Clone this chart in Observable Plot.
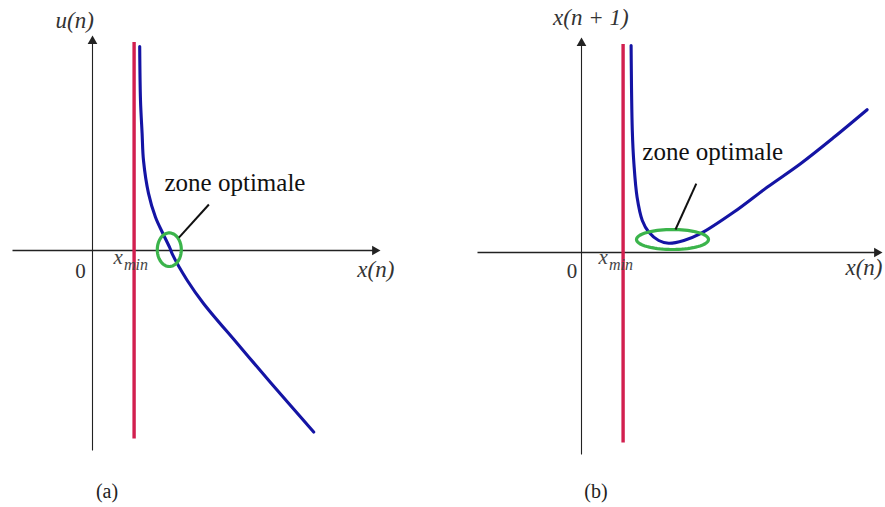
<!DOCTYPE html>
<html>
<head>
<meta charset="utf-8">
<script src="https://cdn.jsdelivr.net/npm/d3@7"></script>
<script src="https://cdn.jsdelivr.net/npm/@observablehq/plot@0.6"></script>
<style>
  body { margin: 0; background: #fff; }
  #wrap { position: relative; width: 885px; height: 507px; overflow: hidden; background: #fff; }
  .panel { position: absolute; top: 0; }
  .cap { position: absolute; top: 480px; font-family: "Liberation Serif"; font-size: 20px; color: #222; transform: translateX(-50%); }
</style>
</head>
<body>
<div id="wrap">
  <div class="panel" id="pa" style="left:0px"></div>
  <div class="panel" id="pb" style="left:442px"></div>
  <div class="cap" style="left:107px">(a)</div>
  <div class="cap" style="left:596px">(b)</div>
</div>
<script>
// ---------- Panel (a): u(n) versus x(n) ----------
const curveA_x = [1.18, 1.20, 1.24, 1.275, 1.40, 1.575, 1.76, 1.94, 1.99, 2.37, 2.78, 3.62, 4.45, 5.53];
const curveA_y = [5.10, 3.75, 2.93, 2.25, 1.43, 0.83, 0.425, 0.05, -0.08, -0.75, -1.33, -2.325, -3.30, -4.54];
const xminA = 1.04;
const redA = [-4.71, 5.2];          // bottom, top of the x_min line
const axisA_x = [-2.0, 7.15];       // x-axis extent (arrow at right)
const axisA_y = [-5.0, 5.325];      // y-axis extent (arrow at top)
const zoneA = {cx: 1.92, cy: 0.02, rx: 0.30, ry: 0.42};
const pointerA = [2.91, 1.15, 2.16, 0.32];
const labelsA = {zone: [1.80, 1.48], yLab: ["u(n)", -0.925, 5.575], xLab: ["x(n)", 6.62, -0.65], zero: [-0.30, -0.675], xmin: [0.525, -0.325]};

// ---------- Panel (b): x(n+1) versus x(n) ----------
const curveB_x = [1.24, 1.27, 1.31, 1.39, 1.52, 1.68, 1.93, 2.18, 2.56, 2.975, 3.81, 4.64, 5.475, 6.31, 7.14];
const curveB_y = [5.175, 3.05, 2.225, 1.38, 0.80, 0.51, 0.30, 0.23, 0.30, 0.47, 1.01, 1.63, 2.22, 2.88, 3.57];
const xminB = 1.04;
const redB = [-4.76, 5.2];
const axisB_x = [-2.6, 7.475];
const axisB_y = [-5.05, 5.325];
const zoneB = {cx: 2.275, cy: 0.325, rx: 0.90, ry: 0.25};
const pointerB = [2.87, 1.72, 2.35, 0.575];
const labelsB = {zone: [1.52, 2.32], yLab: ["x(n + 1)", -0.71, 5.70], xLab: ["x(n)", 6.60, -0.55], zero: [-0.24, -0.625], xmin: [0.425, -0.275]};

const RED = "#d21f4f", BLUE = "#1414a4", GREEN = "#3bb44b", AX = "#222";
const SERIF = "Liberation Serif";

function ellipse(z) {
  return d3.range(0, 73).map(i => {
    const t = i / 72 * 2 * Math.PI;
    return {x: z.cx + z.rx * Math.cos(t), y: z.cy + z.ry * Math.sin(t)};
  });
}

function label(text, x, y, opts) {
  return Plot.text([text], {x: () => x, y: () => y, text: d => d, textAnchor: "start", lineAnchor: "bottom", fontFamily: SERIF, ...opts});
}

function panel(c) {
  const curve = c.cx.map((x, i) => ({x, y: c.cy[i]}));
  const L = c.labels;
  return Plot.plot({
    width: c.width, height: 470, margin: 0,
    x: {domain: c.xDomain, axis: null},
    y: {domain: c.yDomain, axis: null},
    style: {background: "transparent", overflow: "visible"},
    marks: [
      // axes
      Plot.link([{x1: c.axX[0], y1: 0, x2: c.axX[1] - 0.1, y2: 0}], {x1: "x1", y1: "y1", x2: "x2", y2: "y2", stroke: AX, strokeWidth: 1.4}),
      Plot.link([{x1: 0, y1: c.axY[0], x2: 0, y2: c.axY[1] - 0.1}], {x1: "x1", y1: "y1", x2: "x2", y2: "y2", stroke: AX, strokeWidth: 1.1}),
      Plot.dot([{x: c.axX[1] - 0.09, y: 0}], {x: "x", y: "y", symbol: "triangle", rotate: 90, r: 3.6, fill: AX, stroke: null}),
      Plot.dot([{x: 0, y: c.axY[1] - 0.09}], {x: "x", y: "y", symbol: "triangle", rotate: 0, r: 3.6, fill: AX, stroke: null}),
      // x_min vertical line
      Plot.ruleX([c.xmin], {y1: c.red[0], y2: c.red[1], stroke: RED, strokeWidth: 3.4}),
      // curve
      Plot.line(curve, {x: "x", y: "y", stroke: BLUE, strokeWidth: 3.1, curve: "catmull-rom"}),
      // optimal zone
      Plot.line(ellipse(c.zone), {x: "x", y: "y", stroke: GREEN, strokeWidth: 3.2, curve: "linear-closed"}),
      Plot.link([{x1: c.pointer[0], y1: c.pointer[1], x2: c.pointer[2], y2: c.pointer[3]}], {x1: "x1", y1: "y1", x2: "x2", y2: "y2", stroke: "#111", strokeWidth: 2}),
      label("zone optimale", L.zone[0], L.zone[1], {fontSize: 25, fill: "#111"}),
      // math labels
      label(L.yLab[0], L.yLab[1], L.yLab[2], {fontStyle: "italic", fontSize: 23, fill: "#333"}),
      label(L.xLab[0], L.xLab[1], L.xLab[2], {fontStyle: "italic", fontSize: 23, fill: "#333"}),
      label("0", L.zero[0], L.zero[1], {textAnchor: "middle", fontSize: 21, fill: "#333"}),
      label("x", L.xmin[0], L.xmin[1], {fontStyle: "italic", fontSize: 21, fill: "#444"}),
      label("min", L.xmin[0] + 0.26, L.xmin[1] - 0.17, {fontStyle: "italic", fontSize: 16, fill: "#444"})
    ]
  });
}

document.getElementById("pa").append(panel({
  width: 442, xDomain: [-2.3, 8.75], yDomain: [-5.5, 6.25],
  cx: curveA_x, cy: curveA_y, xmin: xminA, red: redA, axX: axisA_x, axY: axisA_y,
  zone: zoneA, pointer: pointerA, labels: labelsA
}));
document.getElementById("pb").append(panel({
  width: 443, xDomain: [-3.475, 7.6], yDomain: [-5.45, 6.3],
  cx: curveB_x, cy: curveB_y, xmin: xminB, red: redB, axX: axisB_x, axY: axisB_y,
  zone: zoneB, pointer: pointerB, labels: labelsB
}));
</script>
</body>
</html>
